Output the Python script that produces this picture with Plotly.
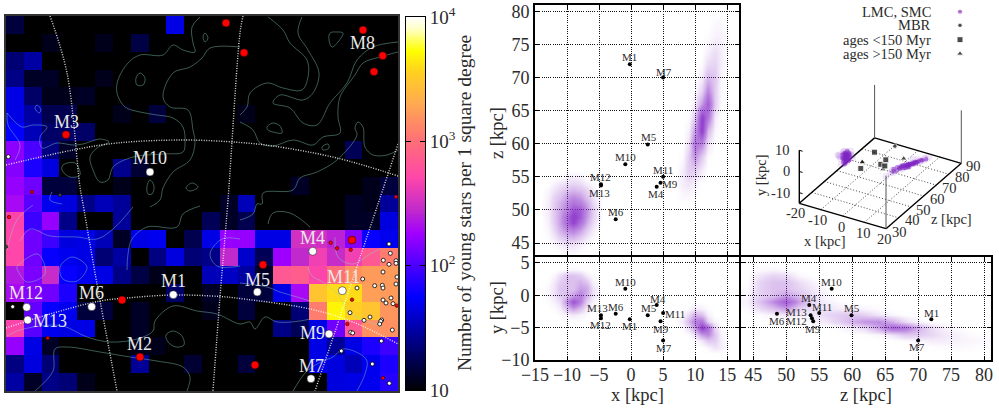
import numpy as np
import plotly.graph_objects as go

FONT = "Liberation Serif"
INK = "#2b2b2b"

# ---- sky map: young star counts per square degree, rows top to bottom, 22 columns
COUNTS = [
 [15,10,10,10,10,10,10,10,10,47,10,10,10,10,10,10,10,10,10,10,10,10],
 [10,10,12,10,10,12,10,16,10,10,10,10,10,10,10,10,10,10,10,10,10,10],
 [22,30,10,10,10,10,10,10,10,10,10,10,10,10,10,10,10,10,10,10,10,10],
 [25,13,13,10,10,12,10,10,10,10,10,10,10,10,10,10,10,10,10,10,10,10],
 [47,20,12,12,13,10,10,10,10,10,10,10,10,10,10,10,10,10,10,10,10,10],
 [47,30,17,17,10,10,12,10,15,10,10,10,10,12,10,10,10,10,10,10,10,10],
 [55,35,20,20,20,10,10,10,10,10,10,10,10,10,10,10,10,10,10,10,10,10],
 [160,100,24,13,10,10,10,10,10,10,10,10,10,10,10,10,10,10,10,18,10,10],
 [150,70,45,10,10,10,26,14,10,10,10,10,10,10,10,10,10,10,10,10,10,10],
 [170,130,15,15,10,10,12,10,10,10,10,10,10,10,10,10,13,10,10,10,12,15],
 [200,110,50,45,25,35,28,10,10,10,10,10,13,35,10,10,10,10,10,13,12,28],
 [500,90,170,25,10,10,28,10,10,10,10,18,13,17,10,10,10,10,10,13,13,45],
 [520,130,90,45,47,35,13,47,50,10,17,47,170,170,47,47,330,330,260,150,60,50],
 [520,130,60,50,47,22,30,10,24,45,22,25,280,40,18,180,280,450,300,450,700,1200],
 [230,140,300,60,50,47,25,16,12,10,10,35,38,30,13,700,750,500,1000,1500,1700,1700],
 [200,150,130,70,10,10,10,10,10,20,10,13,10,15,15,47,200,3000,4000,4000,1800,1700],
 [10,120,60,50,15,15,10,13,10,10,10,12,10,15,10,10,22,1200,5000,3500,3000,1600],
 [500,110,50,47,47,10,10,13,10,10,10,10,10,10,10,25,18,47,130,700,1500,1500],
 [170,47,13,10,10,10,10,12,12,10,10,10,10,10,10,10,10,47,28,47,70,90],
 [24,45,22,10,10,10,10,28,10,10,14,10,10,15,10,10,10,47,45,35,50,70],
 [30,13,25,22,12,10,10,10,10,10,10,10,10,10,10,10,10,10,45,47,50,75],
]

# map coordinates of the coordinate-grid curves
GRID_CURVES = [
 [(50,16),(67,73),(80,187),(83,204),(97,284),(117,391)],
 [(243,16),(240,33),(228,200),(220,297),(213,391)],
 [(398,144),(378,204),(315,391)],
 [(6,165),(73,150),(117,143),(183,140),(240,142.5),(273,146),(337,158),(398,176)],
 [(6,328),(50,314),(100,301),(127,298),(173,295),(220,296.5),(240,298.5),(310,309),(353,322),(398,344)],
]

# map coordinates of the density contours
CONTOURS = [
 [(200,17),(192,27),(193,43),(195,52),(183,50),(173,45),(163,55),(140,55),(128,63),(118,80),(117,93),(125,107),(140,112),(157,115),(173,118),(183,127),(185,143),(183,152),(163,154),(133,157),(113,167),(108,180),(100,182),(93,170),(90,157),(97,148),(109,142),(100,139),(83,144),(73,145),(57,143),(42,148),(40,137),(47,127),(33,125),(22,127),(7,113)],
 [(240,47),(210,48),(202,58),(190,67),(173,73),(163,97),(170,107),(188,110),(193,130),(195,143),(190,160),(173,172),(163,188),(160,200),(150,207)],
 [(268,17),(283,30),(290,43),(307,60),(308,77),(302,90),(283,88),(267,83),(250,93),(247,107),(240,115)],
 [(302,17),(298,33),(308,50),(319,73),(313,93),(303,100),(280,95),(273,103),(290,108),(303,123),(317,125),(330,103),(347,83),(357,60),(373,47),(398,42)],
 [(398,52),(380,57),(363,63),(355,75),(340,97),(338,117),(340,133),(323,137),(313,145),(293,140),(273,146),(260,143),(253,130),(240,122)],
 [(398,150),(387,155),(373,155),(365,147),(363,127),(358,122),(355,128),(357,135),(337,160),(317,172),(300,178),(293,190),(263,193),(262,204),(257,204),(253,214),(240,220)],
 [(330,33),(337,32),(343,33),(338,42),(332,47),(329,40),(330,33)],
 [(267,127),(273,123),(280,126),(282,133),(273,132),(268,130),(267,127)],
 [(322,147),(328,144),(329,148),(323,150),(322,147)],
 [(205,33),(208,38),(205,42),(203,37),(205,33)],
 [(136,78),(140,73),(145,78),(143,85),(137,85),(136,78)],
 [(147,186),(150,180),(154,186),(152,194),(148,194),(147,186)],
 [(186,188),(192,183),(198,187),(190,191),(186,188)],
 [(35,108),(37,105),(41,110),(39,113),(35,108)],
 [(63,165),(75,163),(80,175),(70,177),(62,170),(63,165)],
 [(166,335),(173,331),(182,336),(184,345),(176,347),(168,342),(166,335)],
 [(60,267),(72,257),(87,267),(77,281),(63,279),(60,267)],
 [(17,267),(38,254),(45,274),(27,282),(18,271),(17,267)],
 [(7,336),(17,331),(40,326),(63,326),(87,337),(110,342),(137,339),(153,331),(155,321),(173,306),(197,311),(217,314),(240,324),(250,322),(255,329),(265,317),(277,322),(300,321),(310,319)],
 [(35,391),(53,371),(55,349),(67,347),(100,352),(130,357),(157,361),(183,367),(190,377),(187,391)],
 [(7,250),(17,220),(33,205)],
 [(20,241),(30,229),(50,236),(77,237),(97,239),(113,229),(133,207)],
 [(127,270),(128,254),(132,239),(147,227),(177,227),(183,214),(200,206)],
 [(240,239),(222,239),(210,254),(217,266),(240,266)],
 [(240,283),(267,287),(280,292),(297,297),(310,301)],
 [(293,391),(307,371),(323,361),(333,357),(343,349),(360,354),(367,361),(365,374),(357,391)],
 [(268,224),(273,213),(290,213),(310,227)],
 [(335,237),(338,257),(353,264),(370,254),(380,249)],
 [(308,267),(312,276),(323,282),(340,297),(347,311),(383,327)],
 [(7,113),(8,125),(20,145),(15,160)],
 [(52,192),(50,200),(62,204)],
]

RED_BIG_X = [226,244,363,382.7,374,66,122,140,263,255,352]
RED_BIG_Y = [23,52.7,30,55.7,71.7,134.7,300,357,264.7,365,240]
RED_SMALL_X = [32,9,47.7,330.7,337,350.7,352,396.7,347.3,383,396]
RED_SMALL_Y = [192,217,338,242.7,248.3,249.7,299.7,305.7,324,378,196.7]
DARK_X = [60,6]
DARK_Y = [195,246.7]
WHITE_SMALL_X = [389,390.3,383.3,389,396,396,383,397,362.7,374.7,382.3,383,396,357,391,383,386,393,350,370,364,381.7,380.7,379.7,392.3,350.7,352.7,381.3,341.3,372.3,389.3,8.3,12.7]
WHITE_SMALL_Y = [244,253.3,260.3,264.3,260.7,263.3,272,277,279,285.7,285.3,288,284,288,298,300,303,303.7,312.7,317,320.3,320,321.3,324,330,332.3,333,341,351,364,383.3,156.7,306.7]
CLUSTER_MAP_X = [150,173.3,91.7,26.7,27.7,257.3,312.7,342.3,329,311]
CLUSTER_MAP_Y = [172,294.7,306.7,307.3,320,292,251.3,290.7,334,378.7]
MAP_LABELS = [("M3",66,122),("M10",150,158),("M8",362,43),("M4",312,238),("M11",343,277),("M5",257,280),
              ("M12",26,293),("M13",50,320.7),("M6",91,293),("M1",173,281),("M2",139,344),("M9",312,333),("M7",311,366)]

# ---- cluster positions in kpc
NAMES = ["M1","M4","M5","M6","M7","M9","M10","M11","M12","M13"]
X_KPC = [-0.2,4.0,2.6,-2.4,5.0,4.6,-0.9,5.0,-4.7,-4.7]
Y_KPC = [-3.7,-1.5,-3.1,-2.85,-7.0,-4.0,1.0,-2.75,-3.55,-3.1]
Z_KPC = [72.0,53.5,59.9,48.6,70.0,54.1,56.9,55.0,53.9,53.7]
KIND = ["circle","square","square","square","triangle-up","triangle-up","square","square","triangle-up","triangle-up"]

# label nudges (dx, dy) per panel
NUDGE_XZ = dict(M1=(0,-7),M4=(-1,7),M5=(1,-7),M6=(0,-7),M7=(1,-6),M9=(9,1),M10=(0,-7),M11=(0,-7),M12=(0,-7),M13=(-1,8))
NUDGE_XY = dict(M1=(0,7),M4=(1,-6),M5=(1,-7),M6=(0,-7),M7=(1,7),M9=(0,8),M10=(0,-7),M11=(12,1),M12=(0,7),M13=(-3,-7))
NUDGE_ZY = dict(M1=(0,-6),M4=(0,-7),M5=(0,-7),M6=(0,7),M7=(-1,6),M9=(0,8),M10=(0,-7),M11=(3,-6),M12=(-15,3),M13=(-14,-3))

# ---- star density of the Clouds, read per cell
SMC_XZ_X = list(range(-14,-4))
SMC_XZ_Z = list(range(56,42,-1))
SMC_XZ = [
 [0,0,0,0,0,0,0,0,0,0],
 [0,0,0,0,.3,.4,.3,0,0,0],
 [0,0,.3,.6,.8,1,.8,.4,.2,0],
 [0,.2,.6,1,1.5,1.8,1.5,1,.4,0],
 [0,.3,1,1.5,2.5,3,2.5,1.5,.7,.1],
 [0,.4,1.2,2,3,4,3.5,2.3,1,.2],
 [0,.4,1.3,2.3,3.5,5.5,5,3,1.3,.2],
 [0,.4,1.3,2.5,4.5,6.5,5,2.8,1.2,.2],
 [0,.3,1.2,2.5,4.5,6,4,2.2,.9,.1],
 [0,.2,.9,2,3,3.5,2.5,1.3,.5,0],
 [0,.1,.5,1.2,1.8,2,1.3,.6,.2,0],
 [0,0,.2,.5,.8,.8,.5,.2,0,0],
 [0,0,0,.1,.3,.3,.1,0,0,0],
 [0,0,0,0,0,0,0,0,0,0],
]
LMC_XZ_X = list(range(7,16))
LMC_XZ_Z = list(range(80,48,-2))
LMC_XZ = [
 [0,0,0,0,0,0,0,0,0],
 [0,0,0,0,0,0,.15,.2,0],
 [0,0,0,0,0,.1,.3,.3,.05],
 [0,0,0,0,0,.3,.7,.4,.05],
 [0,0,0,0,.1,.8,1,.4,0],
 [0,0,0,0,.4,1.8,1.3,.2,0],
 [0,0,0,.1,1,3.2,1.2,.1,0],
 [0,0,0,.4,2.5,5,1.2,.1,0],
 [0,0,.1,1.2,6.5,3.8,.5,0,0],
 [0,0,.3,2.5,6.5,1.8,.2,0,0],
 [0,0,.7,4,3.2,.6,0,0,0],
 [0,.1,1.2,2.8,1.2,.1,0,0,0],
 [0,.4,1.2,1,.4,0,0,0,0],
 [0,.4,.6,.3,0,0,0,0,0],
 [0,.15,.15,.05,0,0,0,0,0],
 [0,0,0,0,0,0,0,0,0],
]
SMC_XY_X = list(range(-14,-4))
SMC_XY_Y = list(range(5,-5,-1))
SMC_XY = [
 [0,0,0,0,0,0,0,0,0,0],
 [0,0,0,0,.1,.2,.1,0,0,0],
 [0,0,.2,.8,1.5,1.5,1.2,.5,.1,0],
 [0,.1,.5,1.2,1.5,1.5,2,1.5,.4,0],
 [0,.2,.6,1.5,1.5,1.5,2.5,2.3,.8,.1],
 [0,.2,.6,1.2,1.5,2.5,3.5,2,.7,.1],
 [0,.1,.3,.8,3,5.5,3.5,1.2,.3,0],
 [0,0,.1,.4,1.5,2.5,1.5,.5,.1,0],
 [0,0,0,.1,.3,.5,.3,.1,0,0],
 [0,0,0,0,0,0,0,0,0,0],
]
LMC_XY_X = list(range(7,16))
LMC_XY_Y = list(range(-1,-10,-1))
LMC_XY = [
 [0,0,0,0,0,0,0,0,0],
 [0,0,.1,.4,.3,.05,0,0,0],
 [0,.2,.8,2,1.4,.3,0,0,0],
 [0,.5,1.8,3.5,4,1,.2,0,0],
 [0,.1,.8,2.5,6.5,4.5,.9,.1,0],
 [0,0,.1,.7,2.6,3.2,1.4,.3,0],
 [0,0,0,.1,.5,1.3,1.2,.4,0],
 [0,0,0,0,0,.2,.6,.4,.05],
 [0,0,0,0,0,0,0,0,0],
]
ZY_Z = list(range(44,82,2))
ZY_Y = list(range(5,-10,-1))
ZY = [
 [0,0,0,0,0,0,0,0,0,0,0,0,0,0,0,0,0,0,0],
 [0,.1,.2,.1,0,0,0,0,0,0,0,0,0,0,0,0,0,0,0],
 [0,.6,1,.8,.2,0,0,0,0,0,0,0,0,0,0,0,0,0,0],
 [0,1,1.5,1.5,.8,.3,0,0,0,0,0,0,0,0,0,0,0,0,0],
 [.1,1,1.5,1.5,1,.5,.1,0,0,0,0,0,0,0,0,0,0,0,0],
 [.2,1,1.5,2.5,1.5,.7,.2,0,0,0,0,0,0,0,0,0,0,0,0],
 [.3,1.5,3,5,2.5,.8,.3,.1,0,0,0,0,0,0,0,0,0,0,0],
 [.1,.8,1.5,2.5,1,.7,.6,.4,.3,.2,.1,0,0,0,0,0,0,0,0],
 [0,.1,.3,.5,.3,.5,.9,1.2,1.4,1,.5,.2,.05,0,0,0,0,0,0],
 [0,0,0,0,0,.2,.5,1.1,2,2.8,3,2,.8,.2,.05,0,0,0,0],
 [0,0,0,0,0,0,0,.1,.4,.9,2.4,4.5,4,2,.8,.3,.1,0,0],
 [0,0,0,0,0,0,0,0,0,.05,.2,.6,1.3,1.2,.9,.5,.3,.1,.05],
 [0,0,0,0,0,0,0,0,0,0,0,0,.1,.2,.4,.4,.3,.2,.15],
 [0,0,0,0,0,0,0,0,0,0,0,0,0,0,.05,.1,.15,.1,.05],
 [0,0,0,0,0,0,0,0,0,0,0,0,0,0,0,0,0,0,0],
]

# ---- Clouds in the perspective panel (x, y, z in kpc): sparse halo and dense core
HALO3D_X = [-9.5,-9,-9,-8.5,-10,-10.5,-9.5,-8,-9,-10,-11,-8.5,-7.5,-10,-9,-11.5,-12,-8,-7,-9.5,-9,-10.5,-8.5,-9.5, 11,11.5,11,10.5,11,12,11.5,10.5,10,10,10.5,9.5,9,12,12.5,12.5,13,13,11,9.5,8.5]
HALO3D_Y = [-1,-1,0,1,2,1,-1,1,0,3,2,-1,1,-2,-2,2,1,3,0,3,2,0,2,1, -5,-5,-4.5,-4,-4,-6,-5.5,-3,-3,-4,-5,-4,-3,-7,-7,-6,-7,-6,-4,-3,-4]
HALO3D_Z = [49,47,50,49,49,48,51,49,52,48,50,46,50,46,49,46,48,46,50,44,44,52,46,53, 64,66,62,60,58,68,70,58,55,60,64,54,54,72,74,70,76,73,67,52,50]
CORE3D_X = [-10,-9.5,-9,-9.5,-9,-10,-9.5,-9,-8.5,-10,-9.5,-9,-8.5,-10,-9.5,-9,-8.5,-9.5,-9,-8.5,-10.5,-10,-9.5,-9,-10,-9.5,-9,-8.5,-9,-9.5,
            9.5,9,10,9.5,10,10.5,10,10,10.5,11,10.5,11,10.5,11,11.5,11,11,11.5,11,11.5,10.5,11.5,11,12,11.5,12,11.5,12,12,12,12,12,12.5,12.5,13]
CORE3D_Y = [2,2.5,2,1.5,1.5,1,1,1,1,0,0,0,0,-.5,-.5,-1,-1,-1.5,-1.5,-1.5,1.5,2,-1,-2,.5,.5,-.5,.5,-2,-2,
            -3.5,-3,-4,-3,-4,-3,-4.5,-4,-3.5,-4.5,-4,-5,-4.5,-4,-5,-5,-4.5,-5.5,-5,-4.5,-5,-5,-5.5,-5,-5,-5.5,-5.5,-5,-5.5,-6,-6,-6,-6,-6.5,-7]
CORE3D_Z = [49,48,50,48,49,50,49,51,50,49,50,48,49,50,48,49,47,49,48,50,48,51,47,47,47,47,51,47,50,51,
            54,55,56,57,58,58,59,60,60,60,61,61,62,62,62,63,63,63,64,64,64,65,65,65,66,66,67,67,68,68,69,70,71,72,74]

LEGEND_NAMES = ["LMC, SMC","MBR","ages <150 Myr","ages >150 Myr"]
CB_LEVELS = np.linspace(1,4,256)
CB_TICKS = [1,2,3,4]
CB_TICKTEXT = ["10","10<sup>2</sup>","10<sup>3</sup>","10<sup>4</sup>"]

W, H = 999, 408
def dom(a, b):
    return [a/W, b/W]
def ydom(top, bottom):
    return [1-bottom/H, 1-top/H]

fig = go.Figure()

# map
fig.add_trace(go.Heatmap(z=np.log10(np.array(COUNTS,float)), x0=14.91, dx=17.82, y0=24.93, dy=17.86,
                         coloraxis="coloraxis", xaxis="x", yaxis="y", hoverinfo="skip"))
for c in CONTOURS:
    xs,ys = zip(*c)
    fig.add_trace(go.Scatter(x=xs,y=ys,mode="lines",line=dict(color="rgba(140,215,195,0.42)",width=1,shape="spline"),xaxis="x",yaxis="y"))
for c in GRID_CURVES:
    xs,ys = zip(*c)
    fig.add_trace(go.Scatter(x=xs,y=ys,mode="lines",line=dict(color="rgba(255,255,255,0.85)",width=1.4,dash="1px,1.5px",shape="spline"),xaxis="x",yaxis="y"))
fig.add_trace(go.Scatter(x=DARK_X,y=DARK_Y,mode="markers",marker=dict(size=3,color="#556",line=dict(color="#111",width=1)),xaxis="x",yaxis="y"))
fig.add_trace(go.Scatter(x=WHITE_SMALL_X,y=WHITE_SMALL_Y,mode="markers",marker=dict(size=4,color="white",line=dict(color="black",width=0.8)),xaxis="x",yaxis="y"))
fig.add_trace(go.Scatter(x=RED_SMALL_X,y=RED_SMALL_Y,mode="markers",marker=dict(size=3.5,color="#ff0000",line=dict(color="#300",width=0.6)),xaxis="x",yaxis="y"))
fig.add_trace(go.Scatter(x=RED_BIG_X,y=RED_BIG_Y,mode="markers",marker=dict(size=8,color="#ff0000",line=dict(color="black",width=0.5)),xaxis="x",yaxis="y"))
fig.add_trace(go.Scatter(x=CLUSTER_MAP_X,y=CLUSTER_MAP_Y,mode="markers",marker=dict(size=8,color="white",line=dict(color="black",width=0.5)),xaxis="x",yaxis="y"))

# colour bar as its own small axis
fig.add_trace(go.Heatmap(x=[0,1],y=CB_LEVELS,z=np.column_stack([CB_LEVELS,CB_LEVELS]),coloraxis="coloraxis",zsmooth="best",
                         xaxis="x6",yaxis="y6",hoverinfo="skip"))

# cloud density panels
CLOUD_SCALE = [[0,"rgba(150,70,205,0)"],[0.04,"rgba(150,70,205,0.06)"],[0.15,"rgba(150,70,205,0.22)"],[0.5,"rgba(145,60,205,0.6)"],[1,"rgba(135,45,200,0.9)"]]
def cloud(xs, ys, z, ax):
    fig.add_trace(go.Heatmap(x=xs,y=ys,z=z,zmin=0,zmax=6,zsmooth="best",colorscale=CLOUD_SCALE,showscale=False,
                             hoverinfo="skip",xaxis="x"+ax,yaxis="y"+ax))
cloud(SMC_XZ_X,SMC_XZ_Z,SMC_XZ,"2")
cloud(LMC_XZ_X,LMC_XZ_Z,LMC_XZ,"2")
cloud(SMC_XY_X,SMC_XY_Y,SMC_XY,"3")
cloud(LMC_XY_X,LMC_XY_Y,LMC_XY,"3")
cloud(ZY_Z,ZY_Y,ZY,"4")

ann = []
for n,x,y in MAP_LABELS:
    ann.append(dict(text=n,x=x,y=y,xref="x",yref="y",showarrow=False,font=dict(family=FONT,size=18,color="#e8e8e8")))

def panel(xs, ys, nudge, ax):
    fig.add_trace(go.Scatter(x=xs,y=ys,mode="markers",marker=dict(size=4,color="black"),xaxis="x"+ax,yaxis="y"+ax))
    for n,x,y in zip(NAMES,xs,ys):
        dx,dy = nudge[n]
        ann.append(dict(text=n,x=x,y=y,xref="x"+ax,yref="y"+ax,xshift=dx,yshift=-dy,showarrow=False,
                        font=dict(family=FONT,size=11,color=INK)))
panel(X_KPC,Z_KPC,NUDGE_XZ,"2")
panel(X_KPC,Y_KPC,NUDGE_XY,"3")
panel(Z_KPC,Y_KPC,NUDGE_ZY,"4")

# perspective panel, through a fixed oblique projection onto the overlay axes
def project(x, y, z):
    x,y,z = np.asarray(x,float),np.asarray(y,float),np.asarray(z,float)
    a,b,c = (x+20)/40,(z-30)/60,(y+15)/25
    return 799.3+86.7*a+75.3*b, 203.3+25.4*a-65.4*b-53*c

def seg(p, q, color="black", width=1.4, dash=None):
    px,py = project(*zip(p,q))
    fig.add_trace(go.Scatter(x=px,y=py,mode="lines",line=dict(color=color,width=width,dash=dash),xaxis="x5",yaxis="y5"))

for x in (-10,0,10):
    seg((x,-15,30),(x,-15,90),"#333",0.9,"1px,2px")
for z in (40,50,60,70,80):
    seg((-20,-15,z),(20,-15,z),"#333",0.9,"1px,2px")
seg((-20,-15,30),(20,-15,30))
seg((20,-15,30),(20,-15,90))
seg((-20,-15,30),(-20,-15,90))
seg((-20,-15,90),(20,-15,90))
seg((-20,-15,30),(-20,10,30))
seg((20,-15,30),(20,10,30),"#555",1)
seg((-20,-15,90),(-20,10,90),"#555",1)
seg((20,-15,90),(20,10,90),"#555",1)
for y in (-10,0,10):
    px,py = project([-20,-18.5],[y,y],[30,30])
    fig.add_trace(go.Scatter(x=px,y=py,mode="lines",line=dict(color="black",width=1),xaxis="x5",yaxis="y5"))
cx,cy = project(HALO3D_X,HALO3D_Y,HALO3D_Z)
fig.add_trace(go.Scatter(x=cx,y=cy,mode="markers",marker=dict(size=7,color="rgba(150,70,205,0.13)"),xaxis="x5",yaxis="y5"))
cx,cy = project(CORE3D_X,CORE3D_Y,CORE3D_Z)
fig.add_trace(go.Scatter(x=cx,y=cy,mode="markers",marker=dict(size=4.5,color="rgba(125,35,195,0.5)"),xaxis="x5",yaxis="y5"))
mx,my = project(X_KPC,Y_KPC,Z_KPC)
fig.add_trace(go.Scatter(x=mx,y=my,mode="markers",marker=dict(size=[4.5 if k=="circle" else 6 for k in KIND],color="black",symbol=KIND),xaxis="x5",yaxis="y5"))

for t,x,y in [("-20",795,213),("-10",817,220),("0",841,227),("10",863,233),("20",884,239),
              ("30",899,232),("40",912,220),("50",923,210),("60",937,199),("70",949,188),("80",962,177),("90",973,166)]:
    ann.append(dict(text=t,x=x,y=y,xref="x5",yref="y5",showarrow=False,font=dict(family=FONT,size=14.5,color=INK)))
for t,y in [("10",150),("0",171),("-10",193)]:
    ann.append(dict(text=t,x=792,y=y,xref="x5",yref="y5",xanchor="right",showarrow=False,font=dict(family=FONT,size=14.5,color=INK)))
ann.append(dict(text="x [kpc]",x=824,y=241,xref="x5",yref="y5",showarrow=False,font=dict(family=FONT,size=14.5,color=INK)))
ann.append(dict(text="z [kpc]",x=951,y=219,xref="x5",yref="y5",showarrow=False,font=dict(family=FONT,size=14.5,color=INK)))
ann.append(dict(text="y [kpc]",x=761,y=176,xref="x5",yref="y5",textangle=-90,showarrow=False,font=dict(family=FONT,size=14.5,color=INK)))

# legend
LEG_Y = [11.7,25.3,39.7,53.7]
for t,y in zip(LEGEND_NAMES,LEG_Y):
    ann.append(dict(text=t.replace("<","&lt;"),x=933,y=y,xref="x5",yref="y5",xanchor="right",showarrow=False,font=dict(family=FONT,size=14.5,color=INK)))
fig.add_trace(go.Scatter(x=[960]*4,y=LEG_Y,mode="markers",
    marker=dict(symbol=["circle","circle","square","triangle-up"],size=[5,4.5,6,6],color=["#8a2fc8","black","black","black"]),xaxis="x5",yaxis="y5"))

# colorbar label and axis titles
TITLE = dict(family=FONT,size=18.5,color=INK)
ann.append(dict(text="Number of young stars per 1 square degree",x=464,y=203,xref="x5",yref="y5",textangle=-90,showarrow=False,
                font=dict(family=FONT,size=19.5,color=INK)))
ann.append(dict(text="z [kpc]",x=497,y=133,xref="x5",yref="y5",textangle=-90,showarrow=False,font=TITLE))
ann.append(dict(text="y [kpc]",x=497,y=308,xref="x5",yref="y5",textangle=-90,showarrow=False,font=TITLE))
ann.append(dict(text="x [kpc]",x=637,y=395,xref="x5",yref="y5",showarrow=False,font=TITLE))
ann.append(dict(text="z [kpc]",x=866,y=395,xref="x5",yref="y5",showarrow=False,font=TITLE))

MAP_SCALE = [[0,"#000000"],[0.25,"#0000ff"],[0.33,"#4600ff"],[0.42,"#a000ff"],[0.48,"#be28cd"],[0.57,"#ff46aa"],
             [0.667,"#ff6e78"],[0.77,"#ffaa50"],[0.857,"#ffd21e"],[0.91,"#ffff00"],[0.97,"#ffffc8"],[1,"#ffffff"]]

axis_common = dict(showline=True,mirror="ticks",linecolor="black",linewidth=2,ticks="inside",ticklen=4,tickcolor="black",
                   showgrid=True,griddash="1px,1.2px",gridcolor="#111111",gridwidth=1,zeroline=False,automargin=False,
                   tickfont=dict(family=FONT,size=18,color=INK))
hidden = dict(visible=False,showgrid=False,zeroline=False,automargin=False)

fig.update_layout(
    width=W,height=H,margin=dict(l=0,r=0,t=0,b=0,pad=0,autoexpand=False),showlegend=False,
    paper_bgcolor="white",plot_bgcolor="rgba(0,0,0,0)",annotations=ann,
    coloraxis=dict(cmin=1,cmax=4,colorscale=MAP_SCALE,showscale=False),
    xaxis=dict(domain=dom(6,398),range=[6,398],showline=True,mirror=True,linecolor="#333",linewidth=1.5,
               showticklabels=False,ticks="",showgrid=False,zeroline=False),
    yaxis=dict(domain=ydom(16,391),range=[391,16],showline=True,mirror=True,linecolor="#333",linewidth=1.5,
               showticklabels=False,ticks="",showgrid=False,zeroline=False),
    xaxis2=dict(domain=dom(535,739),range=[-15,16.85],anchor="y2",tickvals=list(range(-15,20,5)),showticklabels=False,**axis_common),
    yaxis2=dict(domain=ydom(4.7,255),range=[43.2,81],anchor="x2",tickvals=list(range(45,85,5)),**axis_common),
    xaxis3=dict(domain=dom(535,739),range=[-15,16.85],anchor="y3",tickvals=list(range(-15,20,5)),ticklabelstandoff=-3,**axis_common),
    yaxis3=dict(domain=ydom(257,360),range=[-10,5.9],anchor="x3",tickvals=[-10,-5,0,5],**axis_common),
    xaxis4=dict(domain=dom(741,990.7),range=[43.15,81],anchor="y4",tickvals=list(range(45,85,5)),ticklabelstandoff=-3,**axis_common),
    yaxis4=dict(domain=ydom(257,360),range=[-10,5.9],anchor="x4",tickvals=[-10,-5,0,5],showticklabels=False,**axis_common),
    xaxis5=dict(domain=[0,1],range=[0,W],anchor="y5",**hidden),
    yaxis5=dict(domain=[0,1],range=[H,0],anchor="x5",**hidden),
    xaxis6=dict(domain=dom(405.5,425),range=[0,1],anchor="y6",showline=True,mirror=True,linecolor="black",linewidth=1,
                showticklabels=False,ticks="",showgrid=False,zeroline=False),
    yaxis6=dict(domain=ydom(17,390),range=[1,4],anchor="x6",side="right",showline=True,mirror="ticks",linecolor="black",linewidth=1,
                tickmode="array",tickvals=CB_TICKS,ticktext=CB_TICKTEXT,ticks="inside",ticklen=5,tickcolor="black",
                showgrid=False,zeroline=False,tickfont=dict(family=FONT,size=19,color=INK)),
)

fig.write_html("out.html",config={"displayModeBar":False},
               post_script="document.body.style.margin='0';document.documentElement.style.overflow='hidden';")
